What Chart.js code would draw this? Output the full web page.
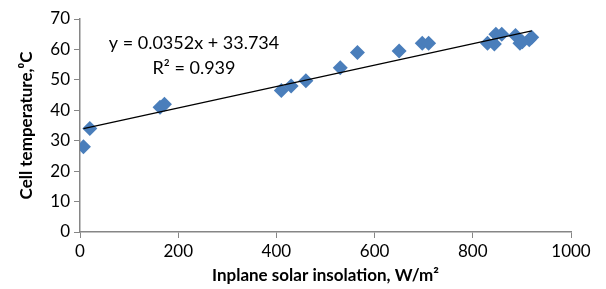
<!DOCTYPE html>
<html>
<head>
<meta charset="utf-8">
<script src="https://cdn.jsdelivr.net/npm/chart.js@4"></script>
<style>
  body{margin:0;background:#fff;}
  #wrap{width:606px;height:289px;}
</style>
</head>
<body>
<div id="wrap"><canvas id="Grafico" width="606" height="289"></canvas></div>
<script>
// datos
const insolacion = [7, 20, 163, 172, 410, 430, 460, 530, 565, 650, 697, 710, 830, 844, 847, 859, 887, 896, 901, 915, 920];
const temperatura = [28, 34, 41, 42, 46.5, 48, 49.7, 54, 59, 59.5, 62, 62, 62, 61.8, 65, 65, 64.6, 62, 62.5, 63.2, 64];
const ticksX = [0, 200, 400, 600, 800, 1000];
const ticksY = [0, 10, 20, 30, 40, 50, 60, 70];

// linea de tendencia (ecuacion del grafico)
const pendiente = 0.0352;
const intercepto = 33.734;
const tendX = [7, 920];

const fuente = "Lato";
const gris = '#868686';

function graficar(){
    const puntos = insolacion.map((v, i) => ({x: v, y: temperatura[i]}));
    const linea = tendX.map(v => ({x: v, y: pendiente * v + intercepto}));

    // texto de la ecuacion
    const ecuacion = {
        id: 'ecuacion',
        afterDatasetsDraw(chart){
            const c = chart.ctx;
            c.save();
            c.fillStyle = '#000';
            c.font = '18px ' + fuente;
            c.textAlign = 'center';
            c.textBaseline = 'middle';
            c.fillText('y = 0.0352x + 33.734', 194, 43);
            c.fillText('R\u00b2 = 0.939', 194, 68);
            c.restore();
        }
    };

    new Chart(document.getElementById('Grafico'), {
        type: 'scatter',
        data: {
            datasets: [{
                data: puntos,
                pointStyle: 'rectRot',
                pointRadius: 7.5,
                pointHoverRadius: 7.5,
                backgroundColor: '#4a7ebb',
                borderColor: '#4a7ebb',
                borderWidth: 0,
                order: 1
            }, {
                data: linea,
                showLine: true,
                pointRadius: 0,
                borderColor: '#000',
                borderWidth: 1.3,
                order: 0
            }]
        },
        options: {
            responsive: false,
            animation: false,
            layout: {padding: {left: 0, right: 35, top: 19, bottom: 0}},
            plugins: {legend: {display: false}, tooltip: {enabled: false}},
            scales: {
                x: {
                    type: 'linear',
                    min: 0, max: 1000,
                    afterBuildTicks: ax => { ax.ticks = ticksX.map(v => ({value: v})); },
                    afterFit: ax => { ax.height = 57; },
                    grid: {drawOnChartArea: false, color: gris, tickLength: 6},
                    border: {color: gris, width: 1.5},
                    ticks: {color: '#000', font: {family: fuente, size: 17}, padding: 3, maxRotation: 0,
                        callback: v => String(v)},
                    title: {display: true, text: 'Inplane solar insolation, W/m\u00b2', color: '#000',
                        font: {family: fuente, size: 17, weight: 'bold'}, padding: {top: 0, bottom: 3}}
                },
                y: {
                    min: 0, max: 70,
                    afterBuildTicks: ax => { ax.ticks = ticksY.map(v => ({value: v})); },
                    afterFit: ax => { ax.width = 80; },
                    grid: {drawOnChartArea: false, color: gris, tickLength: 6},
                    border: {color: gris, width: 1.5},
                    ticks: {color: '#000', font: {family: fuente, size: 17}, padding: 4,
                        callback: v => String(v)},
                    title: {display: true, text: 'Cell temperature,\u2070C', color: '#000',
                        font: {family: fuente, size: 17, weight: 'bold'}, padding: {top: 16, bottom: 0}}
                }
            }
        },
        plugins: [ecuacion]
    });
}

graficar();
</script>
</body>
</html>
